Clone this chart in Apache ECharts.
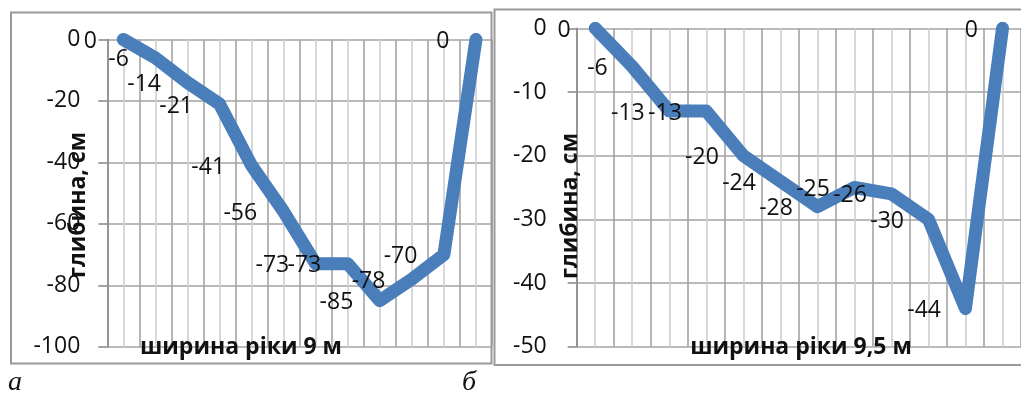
<!DOCTYPE html>
<html>
<head>
<meta charset="utf-8">
<script src="https://cdn.jsdelivr.net/npm/echarts@6/dist/echarts.min.js"></script>
<style>
  html, body { margin: 0; padding: 0; background: #ffffff; }
  #chart { width: 1021px; height: 397px; }
</style>
</head>
<body>
<div id="chart"></div>
<script>
// ---- data ----
const pointsA = [1, 2, 3, 4, 5, 6, 7, 8, 9, 10, 11, 12];
const depthA = [0, -6, -14, -21, -41, -56, -73, -73, -85, -78, -70, 0];
const pointsB = [1, 2, 3, 4, 5, 6, 7, 8, 9, 10, 11, 12];
const depthB = [0, -6, -13, -13, -20, -24, -28, -25, -26, -30, -44, 0];
const yRangeA = [-100, 0];
const yStepA = 20;
const yRangeB = [-50, 0];
const yStepB = 10;
const yTitle = 'глибина, см';
const xTitleA = 'ширина ріки 9 м';
const xTitleB = 'ширина ріки 9,5 м';
const panelA = 'а';
const panelB = 'б';

const FONT = '"Open Sans", "Noto Sans", sans-serif';
const LINE = '#4a7ebb';
const MAJOR = '#a3a3a3';
const MINOR = '#cfcfcf';

function xAxisFor(idx, n) {
  return {
    gridIndex: idx, type: 'value', position: 'top',
    min: 0, max: n, interval: 1,
    axisLine: { show: false }, axisTick: { show: false }, axisLabel: { show: false },
    splitLine: { show: true, lineStyle: { color: MAJOR, width: 1.6 } },
    minorTick: { show: false, splitNumber: 2 },
    minorSplitLine: { show: true, lineStyle: { color: MINOR, width: 1.6 } }
  };
}
function yAxisFor(idx, range, step, margin) {
  return {
    gridIndex: idx, type: 'value', min: range[0], max: range[1], interval: step,
    axisLine: { show: true, lineStyle: { color: '#8c8c8c', width: 1.6 } },
    axisTick: { show: true, length: 9, inside: false, lineStyle: { color: '#8c8c8c', width: 1.6 } },
    axisLabel: { margin: margin, fontFamily: FONT, fontSize: 23, color: '#111' },
    splitLine: { show: true, lineStyle: { color: MAJOR, width: 1.6 } }
  };
}
function seriesFor(idx, pts, vals, dist) {
  return {
    type: 'line', xAxisIndex: idx, yAxisIndex: idx,
    data: vals.map((v, i) => [i + 0.5, v]),
    symbol: 'circle', symbolSize: 1, showSymbol: true,
    itemStyle: { color: LINE },
    lineStyle: { color: LINE, width: 13, cap: 'round', join: 'round' },
    label: {
      show: true, position: 'left', distance: dist, offset: [0, 2],
      fontFamily: FONT, fontSize: 23, color: '#111',
      formatter: p => String(p.value[1])
    },
    clip: true, animation: false, z: 3
  };
}

const chart = echarts.init(document.getElementById('chart'), null, { renderer: 'canvas' });
chart.setOption({
  animation: false,
  backgroundColor: '#ffffff',
  grid: [
    { left: 107.3, top: 39.5, width: 384.7, height: 307.2 },
    { left: 576.7, top: 28.3, width: 447.6, height: 318.4 }
  ],
  xAxis: [xAxisFor(0, pointsA.length), xAxisFor(1, pointsB.length)],
  yAxis: [yAxisFor(0, yRangeA, yStepA, 27), yAxisFor(1, yRangeB, yStepB, 30)],
  series: [seriesFor(0, pointsA, depthA, 26), seriesFor(1, pointsB, depthB, 24)],
  graphic: [
    { type: 'rect', shape: { x: 11, y: 12.5, width: 480.5, height: 351 }, style: { fill: null, stroke: '#9a9a9a', lineWidth: 2 }, z: 10 },
    { type: 'rect', shape: { x: 494.5, y: 9.5, width: 540, height: 355.5 }, style: { fill: null, stroke: '#9a9a9a', lineWidth: 2 }, z: 10 },
    { type: 'text', x: 78.5, y: 205, rotation: Math.PI / 2, style: { text: yTitle, fontFamily: FONT, fontWeight: 'bold', fontSize: 23, fill: '#111', align: 'center', verticalAlign: 'middle' }, z: 20 },
    { type: 'text', x: 570.5, y: 206, rotation: Math.PI / 2, style: { text: yTitle, fontFamily: FONT, fontWeight: 'bold', fontSize: 23, fill: '#111', align: 'center', verticalAlign: 'middle' }, z: 20 },
    { type: 'text', x: 241, y: 347, style: { text: xTitleA, fontFamily: FONT, fontWeight: 'bold', fontSize: 23, fill: '#111', align: 'center', verticalAlign: 'middle' }, z: 20 },
    { type: 'text', x: 801, y: 347, style: { text: xTitleB, fontFamily: FONT, fontWeight: 'bold', fontSize: 23, fill: '#111', align: 'center', verticalAlign: 'middle' }, z: 20 },
    { type: 'text', x: 8, y: 383, style: { text: panelA, fontFamily: '"Liberation Serif", serif', fontStyle: 'italic', fontSize: 28, fill: '#111', align: 'left', verticalAlign: 'middle' }, z: 20 },
    { type: 'text', x: 462, y: 383, style: { text: panelB, fontFamily: '"Liberation Serif", serif', fontStyle: 'italic', fontSize: 28, fill: '#111', align: 'left', verticalAlign: 'middle' }, z: 20 }
  ]
});
</script>
</body>
</html>
